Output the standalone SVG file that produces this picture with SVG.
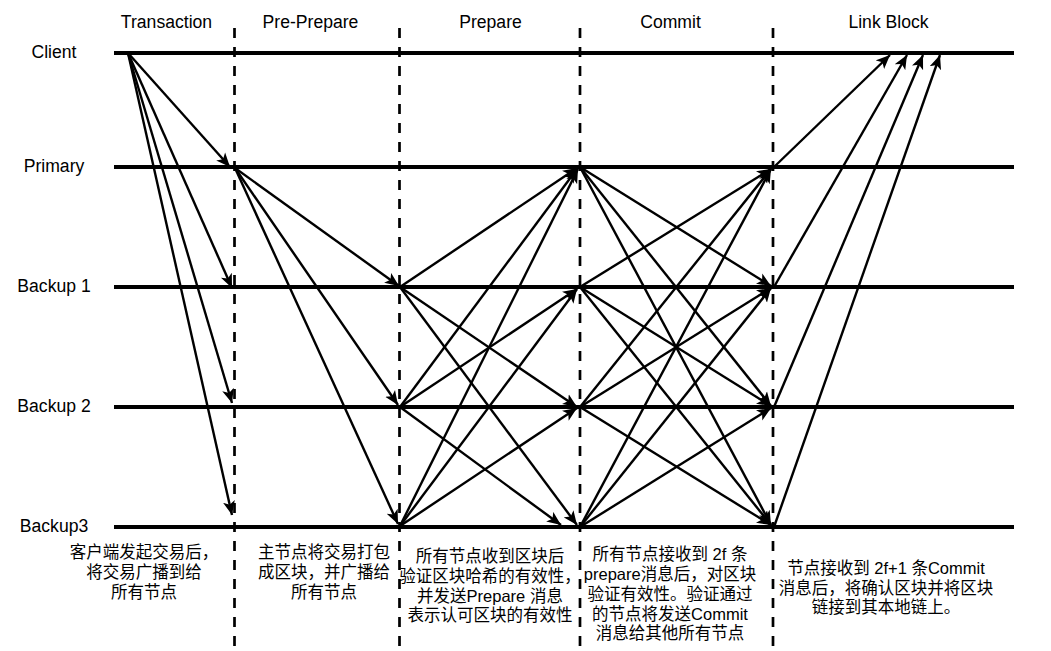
<svg xmlns="http://www.w3.org/2000/svg" width="1051" height="651" viewBox="0 0 1051 651">
<style>
.lane{stroke:#000;stroke-width:4;fill:none}
.sep{stroke:#000;stroke-width:2.7;stroke-dasharray:10 9;fill:none}
.arr{stroke:#000;stroke-width:2.4;fill:none;marker-end:url(#ah)}
.hd{font-family:"Liberation Sans",Arial,sans-serif;font-size:17.6px;fill:#000;text-anchor:middle}
.nl{font-family:"Liberation Sans",Arial,sans-serif;font-size:17.6px;fill:#000;text-anchor:middle}
.ds{font-family:"Liberation Sans","Noto Sans CJK SC",sans-serif;font-size:16.5px;fill:#000;text-anchor:middle}
</style>
<defs>
<marker id="ah" markerUnits="userSpaceOnUse" markerWidth="15" markerHeight="13" refX="14" refY="6.5" orient="auto">
<path d="M0,0.5 L14,6.5 L0,12.5 L3.5,6.5 Z" fill="#000"/>
</marker>
</defs>
<rect width="1051" height="651" fill="#fff"/>
<g id="separators">
<line class="sep" x1="234.5" y1="28" x2="234.5" y2="651"/>
<line class="sep" x1="399.5" y1="28" x2="399.5" y2="651"/>
<line class="sep" x1="580" y1="28" x2="580" y2="651"/>
<line class="sep" x1="773" y1="28" x2="773" y2="651"/>
</g>
<g id="headers">
<text class="hd" x="166.5" y="28">Transaction</text>
<text class="hd" x="310.5" y="28">Pre-Prepare</text>
<text class="hd" x="490.5" y="28">Prepare</text>
<text class="hd" x="670.5" y="28">Commit</text>
<text class="hd" x="888.5" y="28">Link Block</text>
</g>
<g id="client"><line class="lane" x1="114" y1="53" x2="1014" y2="53"/><text class="nl" x="54" y="58">Client</text></g>
<g id="primary"><line class="lane" x1="114" y1="167" x2="1014" y2="167"/><text class="nl" x="54" y="172">Primary</text></g>
<g id="backup1"><line class="lane" x1="114" y1="287" x2="1014" y2="287"/><text class="nl" x="54" y="292">Backup 1</text></g>
<g id="backup2"><line class="lane" x1="114" y1="407" x2="1014" y2="407"/><text class="nl" x="54" y="412">Backup 2</text></g>
<g id="backup3"><line class="lane" x1="114" y1="527" x2="1014" y2="527"/><text class="nl" x="54" y="532">Backup3</text></g>
<g id="connectors">
<line class="arr" x1="128" y1="53" x2="230" y2="167"/>
<line class="arr" x1="128" y1="53" x2="232" y2="288"/>
<line class="arr" x1="128" y1="53" x2="232" y2="403"/>
<line class="arr" x1="128" y1="53" x2="232" y2="515"/>
<line class="arr" x1="235" y1="168" x2="399" y2="286"/>
<line class="arr" x1="235" y1="168" x2="398" y2="405"/>
<line class="arr" x1="235" y1="168" x2="398" y2="524"/>
<line class="arr" x1="400" y1="287" x2="577" y2="168"/>
<line class="arr" x1="400" y1="287" x2="577" y2="407"/>
<line class="arr" x1="400" y1="287" x2="577" y2="525"/>
<line class="arr" x1="400" y1="407" x2="577" y2="169"/>
<line class="arr" x1="400" y1="407" x2="577" y2="289"/>
<line class="arr" x1="400" y1="407" x2="561" y2="525"/>
<line class="arr" x1="400" y1="526" x2="578" y2="169"/>
<line class="arr" x1="400" y1="526" x2="577" y2="289"/>
<line class="arr" x1="400" y1="526" x2="577" y2="408"/>
<line class="arr" x1="580" y1="167" x2="771" y2="286"/>
<line class="arr" x1="580" y1="167" x2="771" y2="406"/>
<line class="arr" x1="580" y1="167" x2="771" y2="525"/>
<line class="arr" x1="580" y1="287" x2="771" y2="169"/>
<line class="arr" x1="580" y1="287" x2="771" y2="406"/>
<line class="arr" x1="580" y1="287" x2="771" y2="525"/>
<line class="arr" x1="580" y1="407" x2="771" y2="169"/>
<line class="arr" x1="580" y1="407" x2="771" y2="288"/>
<line class="arr" x1="580" y1="407" x2="771" y2="525"/>
<line class="arr" x1="580" y1="527" x2="771" y2="169"/>
<line class="arr" x1="580" y1="527" x2="771" y2="288"/>
<line class="arr" x1="580" y1="527" x2="771" y2="408"/>
<line class="arr" x1="774" y1="167" x2="890" y2="55"/>
<line class="arr" x1="774" y1="287" x2="907" y2="55"/>
<line class="arr" x1="774" y1="407" x2="923" y2="55"/>
<line class="arr" x1="774" y1="527" x2="940" y2="55"/>
</g>
<g id="desc-transaction">
<text class="ds" x="144" y="558">客户端发起交易后，</text>
<text class="ds" x="144" y="578">将交易广播到给</text>
<text class="ds" x="144" y="598">所有节点</text>
</g>
<g id="desc-preprepare">
<text class="ds" x="324" y="558">主节点将交易打包</text>
<text class="ds" x="324" y="578">成区块，并广播给</text>
<text class="ds" x="324" y="598">所有节点</text>
</g>
<g id="desc-prepare">
<text class="ds" x="490" y="562">所有节点收到区块后</text>
<text class="ds" x="490" y="582">验证区块哈希的有效性，</text>
<text class="ds" x="490" y="601.5">并发送Prepare 消息</text>
<text class="ds" x="490" y="621">表示认可区块的有效性</text>
</g>
<g id="desc-commit">
<text class="ds" x="670" y="560">所有节点接收到 2f 条</text>
<text class="ds" x="670" y="580">prepare消息后，对区块</text>
<text class="ds" x="670" y="600">验证有效性。验证通过</text>
<text class="ds" x="670" y="620">的节点将发送Commit</text>
<text class="ds" x="670" y="639">消息给其他所有节点</text>
</g>
<g id="desc-linkblock">
<text class="ds" x="886" y="574">节点接收到 2f+1 条Commit</text>
<text class="ds" x="886" y="593.5">消息后，将确认区块并将区块</text>
<text class="ds" x="886" y="613">链接到其本地链上。</text>
</g>
</svg>
